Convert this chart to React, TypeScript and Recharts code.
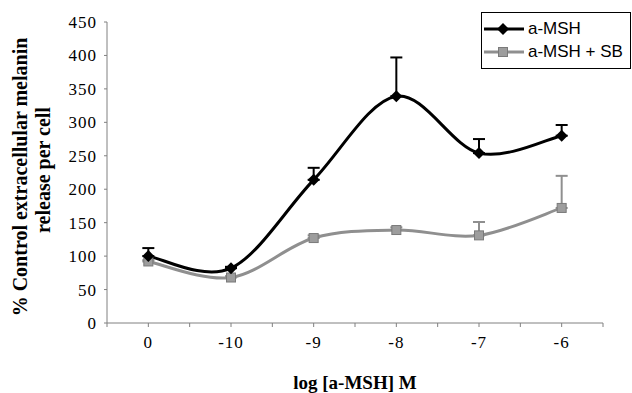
import {
  LineChart,
  Line,
  XAxis,
  YAxis,
  ErrorBar,
  Legend,
} from "recharts";

// x categories (log concentration of a-MSH)
const categories = ["0", "-10", "-9", "-8", "-7", "-6"];
const mshValues = [100, 82, 214, 339, 254, 280];
const mshErrors = [12, 2, 18, 58, 21, 16];
const sbValues = [92, 68, 127, 139, 131, 172];
const sbErrors = [2, 2, 4, 4, 20, 48];
const yTicks = [0, 50, 100, 150, 200, 250, 300, 350, 400, 450];

const data = categories.map((label, i) => ({
  x: i,
  label,
  msh: mshValues[i],
  mshErr: [0, mshErrors[i]],
  sb: sbValues[i],
  sbErr: [0, sbErrors[i]],
}));

// ticks at each category and between them
const xTicks = categories.flatMap((_, i) => [i - 0.5, i]).concat(categories.length - 0.5);

const SERIF = "'Liberation Serif', 'Times New Roman', serif";
const SANS = "'Liberation Sans', Arial, sans-serif";
const GREY = "#8f8f8f";

// smoothed line like the spreadsheet one (catmull-rom through the points)
const smoothCurve = (context: any) => {
  let pts: number[][] = [];
  return {
    areaStart() {},
    areaEnd() {},
    lineStart() {
      pts = [];
    },
    lineEnd() {
      if (!pts.length) return;
      context.moveTo(pts[0][0], pts[0][1]);
      for (let i = 0; i < pts.length - 1; i++) {
        const p0 = pts[i - 1] || pts[i];
        const p1 = pts[i];
        const p2 = pts[i + 1];
        const p3 = pts[i + 2] || p2;
        context.bezierCurveTo(
          p1[0] + (p2[0] - p0[0]) / 6,
          p1[1] + (p2[1] - p0[1]) / 6,
          p2[0] - (p3[0] - p1[0]) / 6,
          p2[1] - (p3[1] - p1[1]) / 6,
          p2[0],
          p2[1]
        );
      }
    },
    point(x: number, y: number) {
      pts.push([+x, +y]);
    },
  };
};

const Diamond = (props: any) => {
  const { cx, cy, index } = props;
  const r = 6;
  return (
    <polygon
      key={`d-${index}`}
      points={`${cx},${cy - r} ${cx + r},${cy} ${cx},${cy + r} ${cx - r},${cy}`}
      fill="#000"
    />
  );
};

const Square = (props: any) => {
  const { cx, cy, index } = props;
  const s = 9;
  return (
    <rect
      key={`s-${index}`}
      x={cx - s / 2}
      y={cy - s / 2}
      width={s}
      height={s}
      fill="#9d9d9d"
      stroke="#7a7a7a"
      strokeWidth={1}
    />
  );
};

const LegendBox = () => (
  <div
    style={{
      border: "1px solid #000",
      width: 150,
      height: 57,
      background: "#fff",
      fontFamily: SANS,
      fontSize: 17,
      boxSizing: "border-box",
      paddingTop: 4,
    }}
  >
    <div style={{ display: "flex", alignItems: "center", height: 23 }}>
      <svg width={46} height={14}>
        <line x1={2} y1={7} x2={42} y2={7} stroke="#000" strokeWidth={3} />
        <polygon points="21,1 27,7 21,13 15,7" fill="#000" />
      </svg>
      <span>a-MSH</span>
    </div>
    <div style={{ display: "flex", alignItems: "center", height: 23 }}>
      <svg width={46} height={14}>
        <line x1={2} y1={7} x2={42} y2={7} stroke={GREY} strokeWidth={3} />
        <rect x={16.5} y={2.5} width={9} height={9} fill="#9d9d9d" stroke="#7a7a7a" />
      </svg>
      <span>a-MSH + SB</span>
    </div>
  </div>
);

const YLabel = () => (
  <g fontFamily={SERIF} fontWeight="bold" fontSize={20} fill="#000">
    <text x={27} y={177} textAnchor="middle" transform="rotate(-90 27 177)">
      % Control extracellular melanin
    </text>
    <text x={50} y={170} textAnchor="middle" transform="rotate(-90 50 170)">
      release per cell
    </text>
  </g>
);

const tickStyle = { fill: "#000", fontFamily: SERIF, fontSize: 17, letterSpacing: 1 };

export default function App() {
  return (
    <div style={{ position: "absolute", left: 0, top: 0, background: "#fff" }}>
      <LineChart
        width={632}
        height={393}
        data={data}
        margin={{ top: 22, right: 29, left: 0, bottom: 0 }}
      >
        <XAxis
          dataKey="x"
          type="number"
          domain={[-0.5, categories.length - 0.5]}
          ticks={xTicks}
          interval={0}
          tickFormatter={(v: number) => (Number.isInteger(v) ? categories[v] : "")}
          height={70}
          tickSize={4}
          tickMargin={9}
          stroke="#808080"
          tick={tickStyle}
          label={{
            value: "log [a-MSH] M",
            position: "insideBottom",
            offset: 4,
            style: { fontFamily: SERIF, fontWeight: "bold", fontSize: 19, fill: "#000" },
          }}
        />
        <YAxis
          domain={[0, 450]}
          ticks={yTicks}
          interval={0}
          width={107}
          tickSize={3}
          tickMargin={7}
          stroke="#808080"
          tick={tickStyle}
          label={{ content: () => <YLabel /> }}
        />
        <Legend
          layout="horizontal"
          verticalAlign="middle"
          align="center"
          wrapperStyle={{ left: 481, top: 12, width: 150 }}
          content={() => <LegendBox />}
        />
        <Line
          dataKey="sb"
          name="a-MSH + SB"
          type={smoothCurve as any}
          stroke={GREY}
          strokeWidth={3}
          dot={(p: any) => <Square {...p} />}
          isAnimationActive={false}
        >
          <ErrorBar dataKey="sbErr" direction="y" width={6} stroke={GREY} strokeWidth={2} />
        </Line>
        <Line
          dataKey="msh"
          name="a-MSH"
          type={smoothCurve as any}
          stroke="#000"
          strokeWidth={3}
          dot={(p: any) => <Diamond {...p} />}
          isAnimationActive={false}
        >
          <ErrorBar dataKey="mshErr" direction="y" width={6} stroke="#000" strokeWidth={2} />
        </Line>
      </LineChart>
    </div>
  );
}
